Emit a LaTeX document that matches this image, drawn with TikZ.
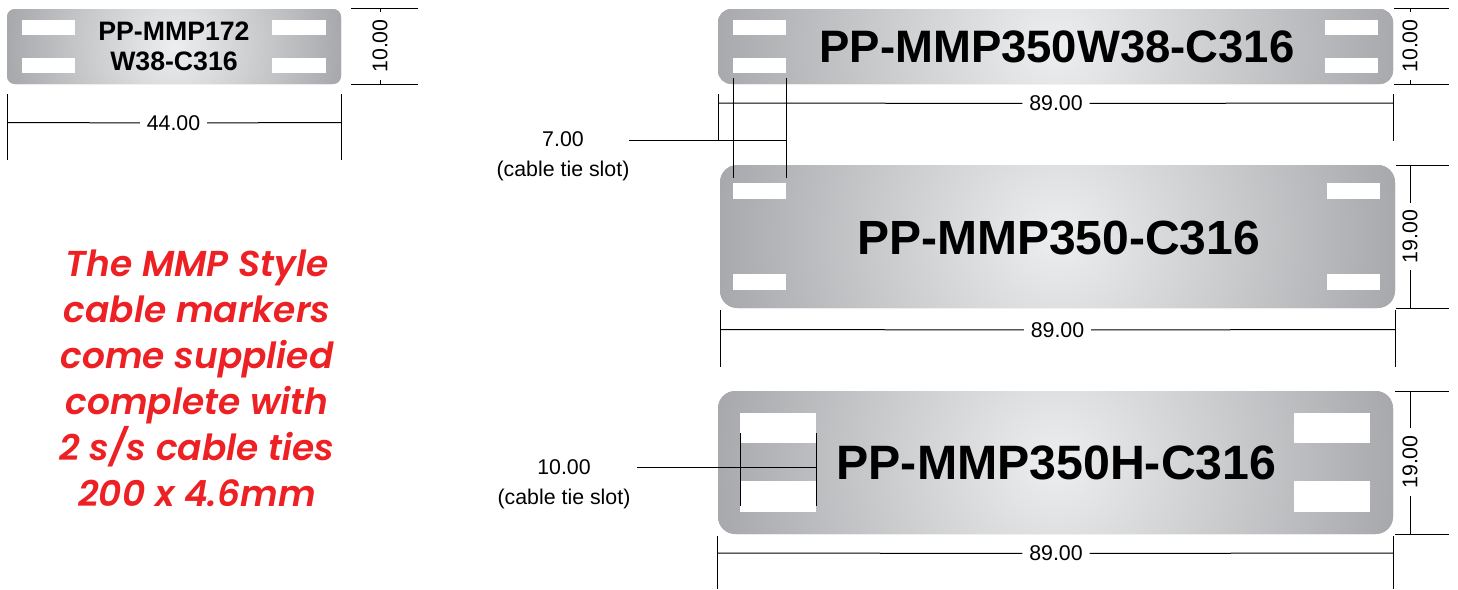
\documentclass[tikz,border=0pt]{standalone}
\usepackage{fontspec}
\setmainfont{Liberation Sans}
\newfontfamily\stylefont{Poppins SemiBold}
\usetikzlibrary{fit}
\definecolor{platedark}{HTML}{A7A9AC}
\definecolor{platemid}{HTML}{CACCCE}
\definecolor{platelight}{HTML}{EDEEEF}
\definecolor{stylered}{HTML}{ED2024}
\pgfdeclareradialshading{platesheen}{\pgfpointorigin}{
	color(0bp)=(platelight);
	color(12.5bp)=(platemid);
	color(25bp)=(platedark);
	color(50bp)=(platedark)}
\tikzset{
	plate/.style 2 args={inner sep=0,outer sep=0,rounded corners=#1,fill=platedark,path picture={
		\shade [shading=platesheen] ([shift={(-#2,-#2)}]path picture bounding box.center) rectangle ([shift={(#2,#2)}]path picture bounding box.center);}},
	slot/.style={inner sep=0,outer sep=0,fill=white},
	dimline/.style={draw=black,line width=0.75pt},
	dimtext/.style={inner sep=5pt,font=\fontsize{16}{18}\selectfont},
	sidetext/.style={inner sep=0,align=center,font=\fontsize{16}{22.5}\selectfont},
	partname/.style={inner sep=0,align=center,font=\bfseries\fontsize{#1}{#1}\selectfont}
}
\begin{document}
\begin{tikzpicture}[x=0.75pt,y=-0.75pt]
	\useasboundingbox (0,0) rectangle (1458,589);
	% plates
	\node [plate={6pt}{167},fit={(7,9) (341,84)}] (plateSmall) {};
	\node [plate={10pt}{340},fit={(718,9) (1393,84)}] (plateWide) {};
	\node [plate={13pt}{340},fit={(720,165) (1395,308)}] (plateTall) {};
	\node [plate={13pt}{340},fit={(718,391) (1393,534)}] (plateHigh) {};
	% slots
	\foreach \name/\xa/\ya/\xb/\yb in {
		smallA/22/20/75/35,smallB/22/58/75/73,smallC/272/20/326/35,smallD/272/58/326/73,
		wideA/733/20/786/35,wideB/733/58/786/73,wideC/1325/20/1378/35,wideD/1325/58/1378/73,
		tallA/733/183/786/199,tallB/733/274/786/290,tallC/1327/183/1380/199,tallD/1327/274/1380/290,
		highA/740/413/816/443,highB/740/481/816/512,highC/1294/413/1370/443,highD/1294/481/1370/512}
		\node [slot,fit={(\xa,\ya) (\xb,\yb)}] (\name) {};
	% part names
	\node [partname=20] (nameSmall) at (174,46) {PP-MMP172\\[2.5pt]W38-C316};
	\node [partname=34.1] (nameWide) at (1057,47) {PP-MMP350W38-C316};
	\node [partname=36] (nameTall) at (1058.5,238) {PP-MMP350-C316};
	\node [partname=36.2] (nameHigh) at (1056.5,463) {PP-MMP350H-C316};
	% width dimensions
	\node [dimtext] (dimSmall) at (173.5,123) {44.00};
	\node [dimtext] (dimWide) at (1056,103.5) {89.00};
	\node [dimtext] (dimTall) at (1057.5,330) {89.00};
	\node [dimtext] (dimHigh) at (1056,553.5) {89.00};
	% height dimensions
	\node [dimtext,rotate=90] (heightSmall) at (380,46) {10.00};
	\node [dimtext,rotate=90] (heightWide) at (1410,46) {10.00};
	\node [dimtext,rotate=90] (heightTall) at (1410,236.5) {19.00};
	\node [dimtext,rotate=90] (heightHigh) at (1410,462) {19.00};
	% side notes
	\node [sidetext] (noteSeven) at (563,156.5) {7.00\\(cable tie slot)};
	\node [sidetext] (noteTen) at (564,484) {10.00\\(cable tie slot)};
	\node [inner sep=0,align=center,text=stylered,font=\stylefont\itshape\fontsize{27}{34.5}\selectfont] (styleNote) at (197,378) {The MMP Style\\cable markers\\come supplied\\complete with\\2 s/s cable ties\\200 x 4.6mm};
	% dimension ends
	\foreach \name/\x/\ya/\yb/\ym in {
		smallL/7/94/160/122.5,smallR/341/94/160/122.5,
		wideL/718/94/141/103,wideR/1393/94/141/103,
		tallL/720/310/367/329.5,tallR/1395/310/367/329.5,
		highL/717.5/536/589/553,highR/1393/536/589/553,
		slotSevenA/733/78/178/140,slotSevenB/786/78/178/140,
		slotTenA/740/433/506/467,slotTenB/816/433/506/467}
	{
		\coordinate (\name Top) at (\x,\ya);
		\coordinate (\name Bot) at (\x,\yb);
		\coordinate (\name Mid) at (\x,\ym);
		\draw [dimline] (\name Top) -- (\name Bot);
	}
	\foreach \name/\xa/\xb/\xm/\y in {
		smallT/351/418/380/8.5,smallB/351/418/380/84.5,
		wideT/1394/1449/1410/8.5,wideB/1394/1449/1410/84.5,
		tallT/1396/1449/1410/165,tallB/1396/1449/1410/308,
		highT/1395/1449/1410/391,highB/1395/1449/1410/534}
	{
		\coordinate (\name Left) at (\xa,\y);
		\coordinate (\name Right) at (\xb,\y);
		\coordinate (\name Mid) at (\xm,\y);
		\draw [dimline] (\name Left) -- (\name Right);
	}
	% dimension lines
	\draw [dimline] (smallLMid) -- (dimSmall) -- (smallRMid);
	\draw [dimline] (wideLMid) -- (dimWide) -- (wideRMid);
	\draw [dimline] (tallLMid) -- (dimTall) -- (tallRMid);
	\draw [dimline] (highLMid) -- (dimHigh) -- (highRMid);
	\draw [dimline] (smallTMid) -- (heightSmall) -- (smallBMid);
	\draw [dimline] (wideTMid) -- (heightWide) -- (wideBMid);
	\draw [dimline] (tallTMid) -- (heightTall) -- (tallBMid);
	\draw [dimline] (highTMid) -- (heightHigh) -- (highBMid);
	% leaders
	\coordinate (leadSeven) at (629,140);
	\coordinate (leadTen) at (637,467);
	\draw [dimline] (leadSeven) -- (slotSevenBMid);
	\draw [dimline] (leadTen) -- (slotTenBMid);
\end{tikzpicture}
\end{document}
